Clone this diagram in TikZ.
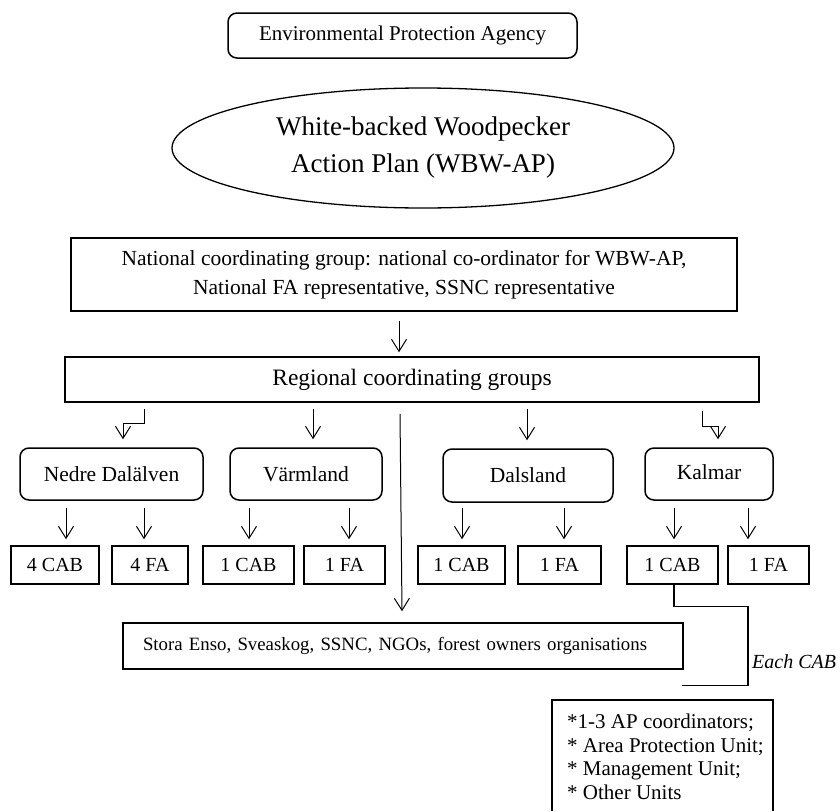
\documentclass[tikz,border=0pt]{standalone}
\usepackage{fontspec}
\setmainfont{Liberation Serif}
\usetikzlibrary{arrows.meta,shapes.geometric}
\tikzset{
  box/.style={draw, line width=1.5pt, inner sep=0pt, align=center},
  rbox/.style={box, rounded corners=9pt},
  small/.style={box, minimum height=38pt, font=\fontsize{20}{24}\selectfont},
  region/.style={rbox, minimum height=52pt, font=\fontsize{21.5}{26}\selectfont},
  arr/.style={line width=1pt, -{Straight Barb[length=12pt,width=15pt,line width=1pt]}},
  link/.style={line width=1.3pt},
}
\begin{document}
\begin{tikzpicture}[x=1pt,y=-1pt]
\useasboundingbox (0,0) rectangle (840,811);

% top
\node[rbox, minimum width=349pt, minimum height=45pt, font=\fontsize{21}{25}\selectfont] (epa) at (402.5,35.5) {Environmental Protection Agency};
\node[draw, ellipse, line width=1.3pt, inner sep=0pt, minimum width=502pt, minimum height=120pt, align=center, font=\fontsize{27}{37}\selectfont] (wbw) at (423,148) {White-backed Woodpecker\\Action Plan (WBW-AP)};

\node[box, minimum width=666pt, minimum height=73pt, font=\fontsize{21.5}{29}\selectfont] (nat) at (404,274.5) {National coordinating group: national co-ordinator for WBW-AP,\\National FA representative, SSNC representative};
\node[box, minimum width=694pt, minimum height=45pt, font=\fontsize{23.5}{28}\selectfont] (reg) at (412,379.5) {Regional coordinating groups};

% regions
\node[region, minimum width=183pt] (ned) at (111.5,474) {Nedre Dalälven};
\node[region, minimum width=152pt] (var) at (306,474) {Värmland};
\node[region, minimum width=170pt, minimum height=53pt] (dal) at (528,475.5) {Dalsland};
\node[region, minimum width=128pt] (kal) at (709,474) {\raisebox{3pt}{Kalmar}};

% small boxes
\node[small, minimum width=88pt] (cab1) at (55,565) {4 CAB};
\node[small, minimum width=76pt] (fa1) at (150,565) {4 FA};
\node[small, minimum width=91pt] (cab2) at (248.5,565) {1 CAB};
\node[small, minimum width=81pt] (fa2) at (344.5,565) {1 FA};
\node[small, minimum width=87pt] (cab3) at (461.5,565) {1 CAB};
\node[small, minimum width=83pt] (fa3) at (559.5,565) {1 FA};
\node[small, minimum width=91pt] (cab4) at (672.5,565) {1 CAB};
\node[small, minimum width=81pt] (fa4) at (768.5,565) {1 FA};

% stakeholders
\node[box, minimum width=560pt, minimum height=46pt, text width=520pt, inner xsep=20pt, align=left, font=\fontsize{18.8}{23}\selectfont] (stora) at (403,646) {Stora Enso, Sveaskog, SSNC, NGOs, forest owners organisations};

% units
\node[anchor=north west, inner sep=0pt, align=left, font=\fontsize{21}{23.5}\selectfont] (units) at (567,714) {*1-3 AP coordinators;\\* Area Protection Unit;\\* Management Unit;\\* Other Units};
\draw[line width=1.5pt] (552,811) -- (552,700) -- (773,700) -- (773,811);

\node[anchor=west, inner sep=0pt, font=\fontsize{20}{24}\selectfont\itshape] (each) at (752,662) {Each CAB};

% connectors
\draw[arr] ([xshift=-5pt,yshift=-9pt]nat.south) -- ([xshift=-13pt,yshift=4pt]reg.north);

\draw[arr] ([xshift=-268pt,yshift=-6pt]reg.south) -- ++(0,15) -| ([xshift=11.5pt,yshift=8pt]ned.north);
\draw[arr] ([xshift=-99pt,yshift=-6pt]reg.south) -- ([xshift=7pt,yshift=8pt]var.north);
\draw[arr] ([xshift=-12pt,yshift=-11pt]reg.south) -- ([xshift=-1pt,yshift=11pt]stora.north);
\draw[arr] ([xshift=115pt,yshift=-6pt]reg.south) -- ([xshift=-1pt,yshift=8pt]dal.north);
\draw[arr] ([xshift=290pt,yshift=-8pt]reg.south) -- ++(0,16) -| ([xshift=9pt,yshift=8pt]kal.north);

\draw[arr] ([xshift=-45.5pt,yshift=-7pt]ned.south) -- ([xshift=11pt,yshift=6pt]cab1.north);
\draw[arr] ([xshift=32.5pt,yshift=-7pt]ned.south) -- ([xshift=-6pt,yshift=6pt]fa1.north);
\draw[arr] ([xshift=-57pt,yshift=-7pt]var.south) -- ([xshift=0.5pt,yshift=6pt]cab2.north);
\draw[arr] ([xshift=43pt,yshift=-7pt]var.south) -- ([xshift=4.5pt,yshift=6pt]fa2.north);
\draw[arr] ([xshift=-66pt,yshift=-5pt]dal.south) -- ([xshift=0.5pt,yshift=6pt]cab3.north);
\draw[arr] ([xshift=36pt,yshift=-5pt]dal.south) -- ([xshift=4.5pt,yshift=6pt]fa3.north);
\draw[arr] ([xshift=-35pt,yshift=-7pt]kal.south) -- ([xshift=1.5pt,yshift=6pt]cab4.north);
\draw[arr] ([xshift=39pt,yshift=-7pt]kal.south) -- ([xshift=-20.5pt,yshift=6pt]fa4.north);

\draw[link] ([xshift=1.5pt]cab4.south) -- ++(0,22) -- ++(74,0) -- ++(0,79) -- ++(-66,0) coordinate (cabend);
\end{tikzpicture}
\end{document}
